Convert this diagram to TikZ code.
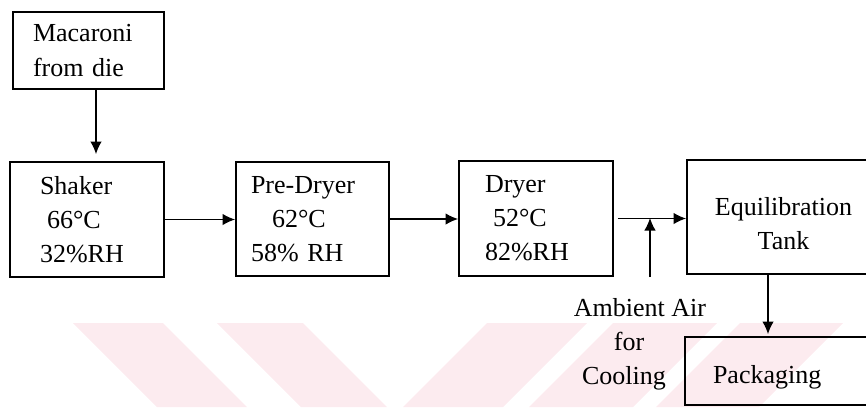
\documentclass[tikz,border=0pt]{standalone}
\usepackage{fontspec}
\setmainfont{Liberation Serif}
\usetikzlibrary{arrows.meta}
\definecolor{stripepink}{RGB}{252,235,239}

\begin{document}
\begin{tikzpicture}[x=0.02cm, y=-0.02cm, >={Latex[length=0.25cm,width=0.23cm]},
  font=\fontsize{14.8}{19.4}\selectfont,
  procbox/.style={draw, line width=1.1pt, align=left, inner ysep=0pt},
  flow/.style={->, line width=0.7pt}]
\useasboundingbox (0,0) rectangle (866,407);
\clip (0,0) rectangle (866,407);

% background stripes
\fill[stripepink] (73,323) -- (163,323) -- (247,407) -- (157,407) -- cycle;
\fill[stripepink] (217,323) -- (303,323) -- (387,407) -- (301,407) -- cycle;
\fill[stripepink] (487,323) -- (587,323) -- (503,407) -- (403,407) -- cycle;
\fill[stripepink] (613,323) -- (717,323) -- (633,407) -- (529,407) -- cycle;
\fill[stripepink] (740,323) -- (843,323) -- (759,407) -- (656,407) -- cycle;

% process boxes
\node[procbox, minimum width=3.02cm, minimum height=1.54cm, text width=2.22cm, inner xsep=0.4cm] (mac) at (88.5,50.5) {Macaroni\\from die};
\node[procbox, minimum width=3.08cm, minimum height=2.30cm, text width=1.88cm, inner xsep=0.6cm] (shaker) at (87,219.5) {Shaker\\\hspace*{0.14cm}66°C\\32\%RH};
\node[procbox, minimum width=3.06cm, minimum height=2.28cm, text width=2.46cm, inner xsep=0.3cm] (predryer) at (312.5,219) {Pre-Dryer\\\hspace*{0.42cm}62°C\\58\% RH};
\node[procbox, minimum width=3.08cm, minimum height=2.30cm, text width=2.04cm, inner xsep=0.52cm] (dryer) at (536,218.5) {Dryer\\\hspace*{0.16cm}52°C\\82\%RH};
\node[procbox, align=center, minimum width=3.86cm, minimum height=2.28cm] (equil) at (783.5,217) {\rule{0pt}{0.62cm}Equilibration\\Tank};
\node[procbox, minimum width=3.9cm, minimum height=1.36cm, text width=2.78cm, inner xsep=0.56cm] (pack) at (782.5,371) {\rule{0pt}{0.63cm}Packaging};
\node[align=center] (air) at (640,344) {Ambient Air\\\mbox{for\hspace{0.44cm}}\\\mbox{Cooling\hspace{0.64cm}}};

% connectors
\coordinate (mix) at (650,218);
\coordinate (airin) at (650,277);
\draw[flow, shorten >=0.14cm] ([xshift=0.15cm]mac.south) -- ([xshift=0.15cm]mac.south |- shaker.north);
\draw[flow] (shaker.east) -- (shaker.east -| predryer.west);
\draw[flow] (predryer.east) -- (predryer.east -| dryer.west);
\draw[flow, shorten <=0.08cm] (dryer.east) -- (dryer.east -| equil.west);
\draw[flow] (airin) -- (mix);
\draw[flow, shorten >=0.04cm] ([xshift=-0.31cm]equil.south) -- ([xshift=-0.31cm]equil.south |- pack.north);
\end{tikzpicture}
\end{document}
